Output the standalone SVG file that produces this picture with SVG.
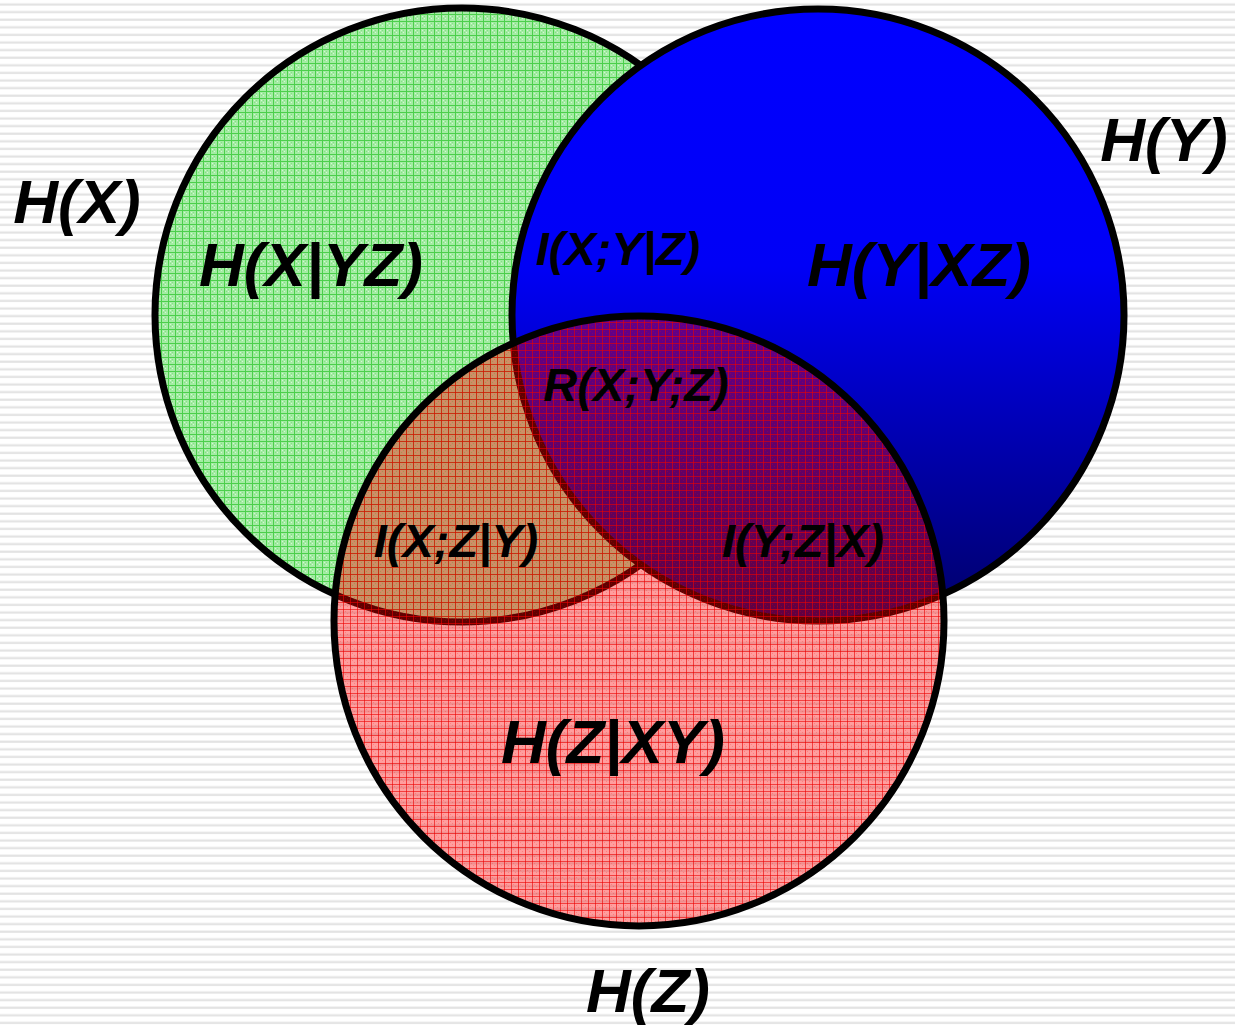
<svg xmlns="http://www.w3.org/2000/svg" width="1235" height="1028" viewBox="0 0 1235 1028">
  <defs>
    <pattern id="stripes" width="1235" height="7.6" patternUnits="userSpaceOnUse">
      <rect x="0" y="0" width="1235" height="7.6" fill="#ffffff"/>
      <rect x="0" y="3.4" width="1235" height="2.2" fill="#e3e3e3"/>
    </pattern>
    <pattern id="greenMesh" width="7" height="7" patternUnits="userSpaceOnUse">
      <rect width="7" height="7" fill="#a4eca4"/>
      <rect x="2" y="2" width="1" height="1" fill="#d4f6d4"/>
      <rect x="4" y="4" width="1" height="1" fill="#d4f6d4"/>
      <rect x="4" y="2" width="1" height="1" fill="#84e084"/>
      <rect x="2" y="4" width="1" height="1" fill="#84e084"/>
      <rect x="0" y="0" width="7" height="1" fill="#4ccf4c"/>
      <rect x="0" y="0" width="1" height="7" fill="#4ccf4c"/>
    </pattern>
    <pattern id="redMesh" width="7" height="7" patternUnits="userSpaceOnUse">
      <rect width="7" height="7" fill="rgba(255,0,0,0.38)"/>
      <rect x="2" y="2" width="1" height="1" fill="rgba(255,0,0,0.2)"/>
      <rect x="4" y="4" width="1" height="1" fill="rgba(255,0,0,0.2)"/>
      <rect x="0" y="0" width="7" height="1" fill="rgba(235,0,0,0.6)"/>
      <rect x="0" y="0" width="1" height="7" fill="rgba(235,0,0,0.6)"/>
    </pattern>
    <linearGradient id="blueGrad" x1="0" y1="0" x2="0" y2="1">
      <stop offset="0" stop-color="#0000ff"/>
      <stop offset="0.42" stop-color="#0000f6"/>
      <stop offset="1" stop-color="#000068"/>
    </linearGradient>
  </defs>
  <style>
    .ring { stroke: #000000; stroke-width: 7; }
    .lbl { font-family: "Liberation Sans", Arial, sans-serif; font-weight: bold; font-style: italic; fill: #000000; text-anchor: middle; }
    .big { font-size: 62px; }
    .mid { font-size: 47px; }
  </style>

  <rect x="0" y="0" width="1235" height="1028" fill="url(#stripes)"/>

  <g id="node-X">
    <circle class="ring" cx="462" cy="315" r="307" fill="url(#greenMesh)"/>
  </g>
  <g id="node-Y">
    <circle class="ring" cx="818" cy="315" r="306" fill="url(#blueGrad)"/>
  </g>
  <g id="node-Z">
    <circle class="ring" cx="639" cy="621" r="305" fill="url(#redMesh)"/>
  </g>

  <g id="labels">
    <text id="label-HX" class="lbl big" x="77" y="223">H(X)</text>
    <text id="label-HY" class="lbl big" x="1164" y="161">H(Y)</text>
    <text id="label-HZ" class="lbl big" x="648" y="1012">H(Z)</text>
    <text id="label-HX-YZ" class="lbl big" x="311" y="286">H(X|YZ)</text>
    <text id="label-HY-XZ" class="lbl big" x="919" y="286">H(Y|XZ)</text>
    <text id="label-HZ-XY" class="lbl big" x="613" y="763">H(Z|XY)</text>
    <text id="label-IXY-Z" class="lbl mid" x="618" y="265">I(X;Y|Z)</text>
    <text id="label-RXYZ" class="lbl mid" x="636" y="401">R(X;Y;Z)</text>
    <text id="label-IXZ-Y" class="lbl mid" x="456" y="557">I(X;Z|Y)</text>
    <text id="label-IYZ-X" class="lbl mid" x="803" y="557">I(Y;Z|X)</text>
  </g>
</svg>
